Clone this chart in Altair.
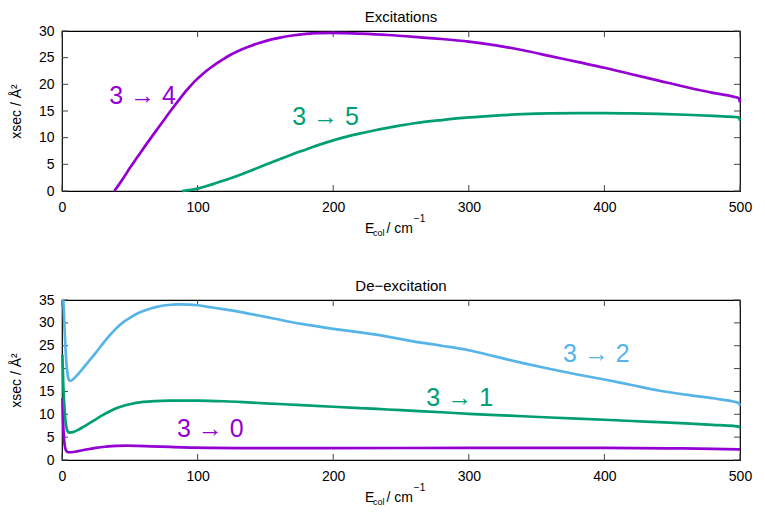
import altair as alt
import pandas as pd

# ---------------- data ----------------
x_ticks = [0, 100, 200, 300, 400, 500]
y_ticks_top = [0, 5, 10, 15, 20, 25, 30]
y_ticks_bot = [0, 5, 10, 15, 20, 25, 30, 35]

# Excitations
e34_x = [38.5, 42, 46, 50, 56, 62, 68, 74, 80, 86, 92, 98, 104, 110, 117, 124, 132, 140, 150,
         160, 170, 180, 190, 200, 210, 220, 240, 260, 280, 300, 320, 340, 360, 380, 400, 420,
         440, 460, 480, 495, 499, 500]
e34_y = [0.0, 1.2, 2.7, 4.3, 6.5, 8.7, 10.8, 12.9, 15.0, 17.0, 18.9, 20.6, 22.0, 23.2, 24.4,
         25.5, 26.5, 27.3, 28.1, 28.7, 29.15, 29.45, 29.6, 29.65, 29.6, 29.5, 29.25, 28.9, 28.5,
         28.0, 27.3, 26.4, 25.3, 24.2, 23.1, 21.9, 20.7, 19.5, 18.4, 17.7, 17.4, 16.6]

e35_x = [88.5, 95, 100, 110, 120, 130, 140, 150, 160, 170, 180, 190, 200, 210, 220, 230, 240,
         250, 260, 280, 300, 320, 340, 360, 380, 400, 420, 440, 460, 480, 495, 499, 500]
e35_y = [0.0, 0.2, 0.45, 1.2, 2.0, 2.9, 3.9, 4.9, 5.9, 6.9, 7.8, 8.7, 9.5, 10.2, 10.8, 11.35,
         11.85, 12.3, 12.7, 13.3, 13.8, 14.15, 14.4, 14.55, 14.6, 14.6, 14.55, 14.45, 14.3,
         14.1, 13.9, 13.8, 13.2]

# De-excitation
d32_x = [1.0, 2, 3, 4, 5, 6, 8, 11, 15, 20, 25, 30, 35, 40, 45, 50, 56, 62, 70, 78, 86, 94,
         100, 110, 120, 135, 150, 165, 180, 200, 220, 240, 260, 280, 300, 320, 340, 360, 380,
         400, 420, 440, 460, 480, 495, 499, 500]
d32_y = [35.0, 28.0, 22.3, 19.0, 17.6, 17.3, 17.6, 18.5, 19.9, 21.7, 23.5, 25.4, 27.2, 28.8,
         30.1, 31.1, 32.1, 32.8, 33.5, 33.9, 34.05, 34.0, 33.85, 33.4, 32.95, 32.2, 31.3, 30.4,
         29.6, 28.7, 27.9, 27.0, 25.9, 25.0, 24.0, 22.6, 21.2, 19.9, 18.7, 17.6, 16.4, 15.2,
         14.3, 13.5, 12.8, 12.5, 11.9]

d31_x = [0.3, 1, 2, 3, 4, 5.5, 8, 12, 16, 20, 25, 30, 35, 40, 45, 50, 60, 70, 80, 100, 120,
         140, 160, 180, 200, 220, 240, 260, 280, 300, 330, 360, 400, 430, 460, 480, 495, 499,
         500]
d31_y = [23.0, 16.0, 10.5, 7.6, 6.4, 6.0, 6.1, 6.6, 7.3, 8.0, 8.9, 9.8, 10.6, 11.3, 11.8,
         12.2, 12.7, 12.9, 13.0, 13.0, 12.85, 12.55, 12.25, 11.95, 11.65, 11.35, 11.05, 10.75,
         10.45, 10.1, 9.7, 9.3, 8.8, 8.4, 8.0, 7.7, 7.45, 7.3, 7.0]

d30_x = [0.3, 1, 2, 3, 4.5, 7, 12, 18, 25, 32, 40, 48, 56, 65, 80, 95, 110, 130, 200, 300,
         400, 450, 480, 500]
d30_y = [13.5, 7.0, 3.2, 2.1, 1.7, 1.7, 1.95, 2.3, 2.65, 2.9, 3.1, 3.15, 3.1, 3.0, 2.85, 2.72,
         2.65, 2.6, 2.6, 2.65, 2.65, 2.55, 2.45, 2.3]

# curve labels: text and anchor point in data units
top_labels = [("3 → 4", 59.4, 17.9, "#9400D3"), ("3 → 5", 194.3, 13.9, "#009E73")]
bot_labels = [("3 → 0", 109.4, 6.8, "#9400D3"), ("3 → 2", 394.1, 23.1, "#56B4E9"),
              ("3 → 1", 293.3, 13.5, "#009E73")]

# ---------------- styling ----------------
W, H = 678, 160
XMAX = 500
FONT = "Liberation Sans"
PURPLE, GREEN, BLUE = "#9400D3", "#009E73", "#56B4E9"
TICK = 6  # inward tick length in pixels


def panel(title, ymax, yticks, series, labels):
    xscale = alt.Scale(domain=[0, XMAX], nice=False, zero=False)
    yscale = alt.Scale(domain=[0, ymax], nice=False)
    xaxis = alt.Axis(values=x_ticks, title=None, labelPadding=9, labelFlush=False)
    yaxis = alt.Axis(values=yticks, title="xsec / Å²", labelPadding=8, titlePadding=15,
                     labelFlush=False, labelOverlap=False)
    X = alt.X("E:Q", scale=xscale, axis=xaxis)
    Y = alt.Y("xsec:Q", scale=yscale, axis=yaxis)

    dy = TICK / H * ymax
    dx = TICK / W * XMAX
    layers = []
    # inward ticks on all four sides (gnuplot style)
    xt = pd.DataFrame({"E": x_ticks, "y0": [ymax] * len(x_ticks), "y1": [ymax - dy] * len(x_ticks),
                       "b0": [0] * len(x_ticks), "b1": [dy] * len(x_ticks)})
    yt = pd.DataFrame({"xsec": yticks, "l0": [0] * len(yticks), "l1": [dx] * len(yticks),
                       "r0": [XMAX] * len(yticks), "r1": [XMAX - dx] * len(yticks)})
    ts = dict(color="#444444", strokeWidth=1)
    layers.append(alt.Chart(xt).mark_rule(**ts).encode(
        x=X, y=alt.Y("y0:Q", scale=yscale, axis=yaxis), y2="y1:Q"))
    layers.append(alt.Chart(xt).mark_rule(**ts).encode(
        x=X, y=alt.Y("b0:Q", scale=yscale, axis=yaxis), y2="b1:Q"))
    layers.append(alt.Chart(yt).mark_rule(**ts).encode(
        y=Y, x=alt.X("l0:Q", scale=xscale, axis=xaxis), x2="l1:Q"))
    layers.append(alt.Chart(yt).mark_rule(**ts).encode(
        y=Y, x=alt.X("r0:Q", scale=xscale, axis=xaxis), x2="r1:Q"))

    for xs, ys, color in series:
        df = pd.DataFrame({"E": xs, "xsec": ys})
        layers.append(alt.Chart(df).mark_line(color=color, strokeWidth=2.7,
                                              interpolate="monotone").encode(x=X, y=Y))

    ldf = pd.DataFrame({"t": [l[0] for l in labels], "E": [l[1] for l in labels],
                        "xsec": [l[2] for l in labels], "c": [l[3] for l in labels]})
    layers.append(alt.Chart(ldf).mark_text(font=FONT, fontSize=25, align="center",
                                           baseline="middle").encode(
        x=X, y=Y, text="t:N", color=alt.Color("c:N", scale=None)))

    # x-axis title  E_col / cm^-1  built from pieces (sub/superscripts)
    pieces = [("E", 303, H + 42, 14), ("col", 311, H + 45.3, 9), ("/ cm", 324.5, H + 42, 14),
              ("−1", 351.8, H + 30.8, 10)]
    for s, px, py, fs in pieces:
        layers.append(alt.Chart(pd.DataFrame({"t": [s]})).mark_text(
            font=FONT, fontSize=fs, align="left", baseline="alphabetic", color="black").encode(
            text="t:N", x=alt.value(px), y=alt.value(py)))

    return alt.layer(*layers).properties(
        width=W, height=H,
        title=alt.TitleParams(title, font=FONT, fontSize=15, fontWeight="normal",
                              color="black", offset=-0.5, anchor="middle"))


top = panel("Excitations", 30, y_ticks_top,
            [(e34_x, e34_y, PURPLE), (e35_x, e35_y, GREEN)], top_labels)
bot = panel("De−excitation", 35, y_ticks_bot,
            [(d30_x, d30_y, PURPLE), (d31_x, d31_y, GREEN), (d32_x, d32_y, BLUE)], bot_labels)

chart = alt.vconcat(top, bot, spacing=109, bounds="flush").properties(
    padding={"left": 0, "top": 0, "right": 0, "bottom": 0}
).configure_view(stroke="black", strokeWidth=1.2).configure_axis(
    labelFont=FONT, labelFontSize=14, labelColor="black",
    titleFont=FONT, titleFontSize=14, titleFontWeight="normal", titleColor="black",
    grid=False, domain=False, ticks=False)

chart.save("out.html", embed_options={"renderer": "svg", "actions": False})
